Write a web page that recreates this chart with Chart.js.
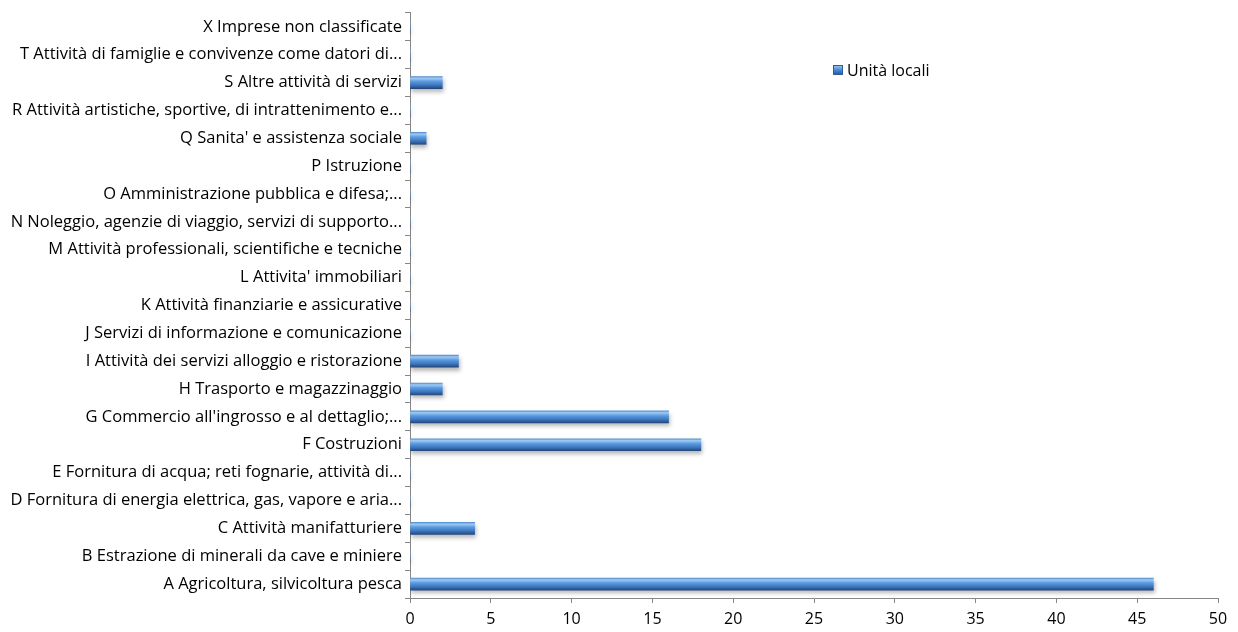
<!DOCTYPE html>
<html>
<head>
<meta charset="utf-8">
<script src="https://cdn.jsdelivr.net/npm/chart.js@4/dist/chart.umd.min.js"></script>
<style>
  html, body { margin: 0; padding: 0; background: #fff; }
  #wrap { position: relative; width: 1238px; height: 632px; }
  #legend { position: absolute; left: 833px; top: 59px; font: 16px "Open Sans", sans-serif; color: #000; display: flex; align-items: center; }
  #legend .sw { width: 10px; height: 10px; margin-right: 4px; background: linear-gradient(#8cc2f2, #4a8ad6 50%, #2b5c9c); border: 1px solid #2f5f98; box-sizing: border-box; }
</style>
</head>
<body>
<div id="wrap">
  <canvas id="c" width="1238" height="632"></canvas>
  <div id="legend"><span class="sw"></span><span>Unità locali</span></div>
</div>
<script>
const categories = [
  "A Agricoltura, silvicoltura pesca",
  "B Estrazione di minerali da cave e miniere",
  "C Attività manifatturiere",
  "D Fornitura di energia elettrica, gas, vapore e aria...",
  "E Fornitura di acqua; reti fognarie, attività di...",
  "F Costruzioni",
  "G Commercio all'ingrosso e al dettaglio;...",
  "H Trasporto e magazzinaggio",
  "I Attività dei servizi alloggio e ristorazione",
  "J Servizi di informazione e comunicazione",
  "K Attività finanziarie e assicurative",
  "L Attivita' immobiliari",
  "M Attività professionali, scientifiche e tecniche",
  "N Noleggio, agenzie di viaggio, servizi di supporto...",
  "O Amministrazione pubblica e difesa;...",
  "P Istruzione",
  "Q Sanita' e assistenza sociale",
  "R Attività artistiche, sportive, di intrattenimento e...",
  "S Altre attività di servizi",
  "T Attività di famiglie e convivenze come datori di...",
  "X Imprese non classificate"
];
const unitaLocali = [46, 0, 4, 0, 0, 18, 16, 2, 3, 0, 0, 0, 0, 0, 0, 0, 1, 0, 2, 0, 0];
const seriesName = "Unità locali";
const xMin = 0, xMax = 50, xStep = 5;

const BAR_T = 12;
function barGradient(ctx) {
  const chart = ctx.chart;
  const ys = chart.scales && chart.scales.y;
  if (!ys || ctx.dataIndex === undefined) return '#4a8ad6';
  const c = ys.getPixelForValue(ctx.dataIndex);
  if (!isFinite(c)) return '#4a8ad6';
  const top = c - BAR_T / 2, bot = c + BAR_T / 2;
  const g = chart.ctx.createLinearGradient(0, top, 0, bot);
  g.addColorStop(0, '#5a8fcf');
  g.addColorStop(0.15, '#9ccbf5');
  g.addColorStop(0.4, '#5c9be0');
  g.addColorStop(0.7, '#3f78c0');
  g.addColorStop(1, '#23497e');
  return g;
}

const shadowPlugin = {
  id: 'shadow',
  beforeDatasetsDraw(chart) {
    const c = chart.ctx;
    c.save();
    c.shadowColor = 'rgba(0,0,0,0.28)';
    c.shadowBlur = 4;
    c.shadowOffsetX = 1;
    c.shadowOffsetY = 3;
  },
  afterDatasetsDraw(chart) { chart.ctx.restore(); }
};

new Chart(document.getElementById('c'), {
  type: 'bar',
  data: {
    labels: categories,
    datasets: [{
      label: seriesName,
      data: unitaLocali,
      backgroundColor: barGradient,
      borderWidth: 0,
      barThickness: BAR_T
    }]
  },
  options: {
    indexAxis: 'y',
    responsive: false,
    animation: false,
    devicePixelRatio: 1,
    layout: { padding: { top: 10, right: 20, left: 0, bottom: 0 } },
    plugins: { legend: { display: false }, tooltip: { enabled: false } },
    scales: {
      x: {
        min: xMin, max: xMax,
        ticks: { stepSize: xStep, color: '#000', font: { family: 'Open Sans', size: 16 }, padding: 7 },
        grid: { display: true, drawOnChartArea: false, drawTicks: true, tickLength: 5, color: '#868686' },
        border: { color: '#868686', width: 1 },
        afterFit(s) { s.height = 34; }
      },
      y: {
        reverse: true,
        ticks: { color: '#000', font: { family: 'Open Sans', size: 16.5 }, padding: 3, autoSkip: false },
        grid: { display: true, drawOnChartArea: false, drawTicks: true, tickLength: 5, color: '#868686', offset: true },
        border: { color: '#868686', width: 1 },
        afterFit(s) { s.width = 410; }
      }
    }
  },
  plugins: [shadowPlugin]
});
</script>
</body>
</html>
